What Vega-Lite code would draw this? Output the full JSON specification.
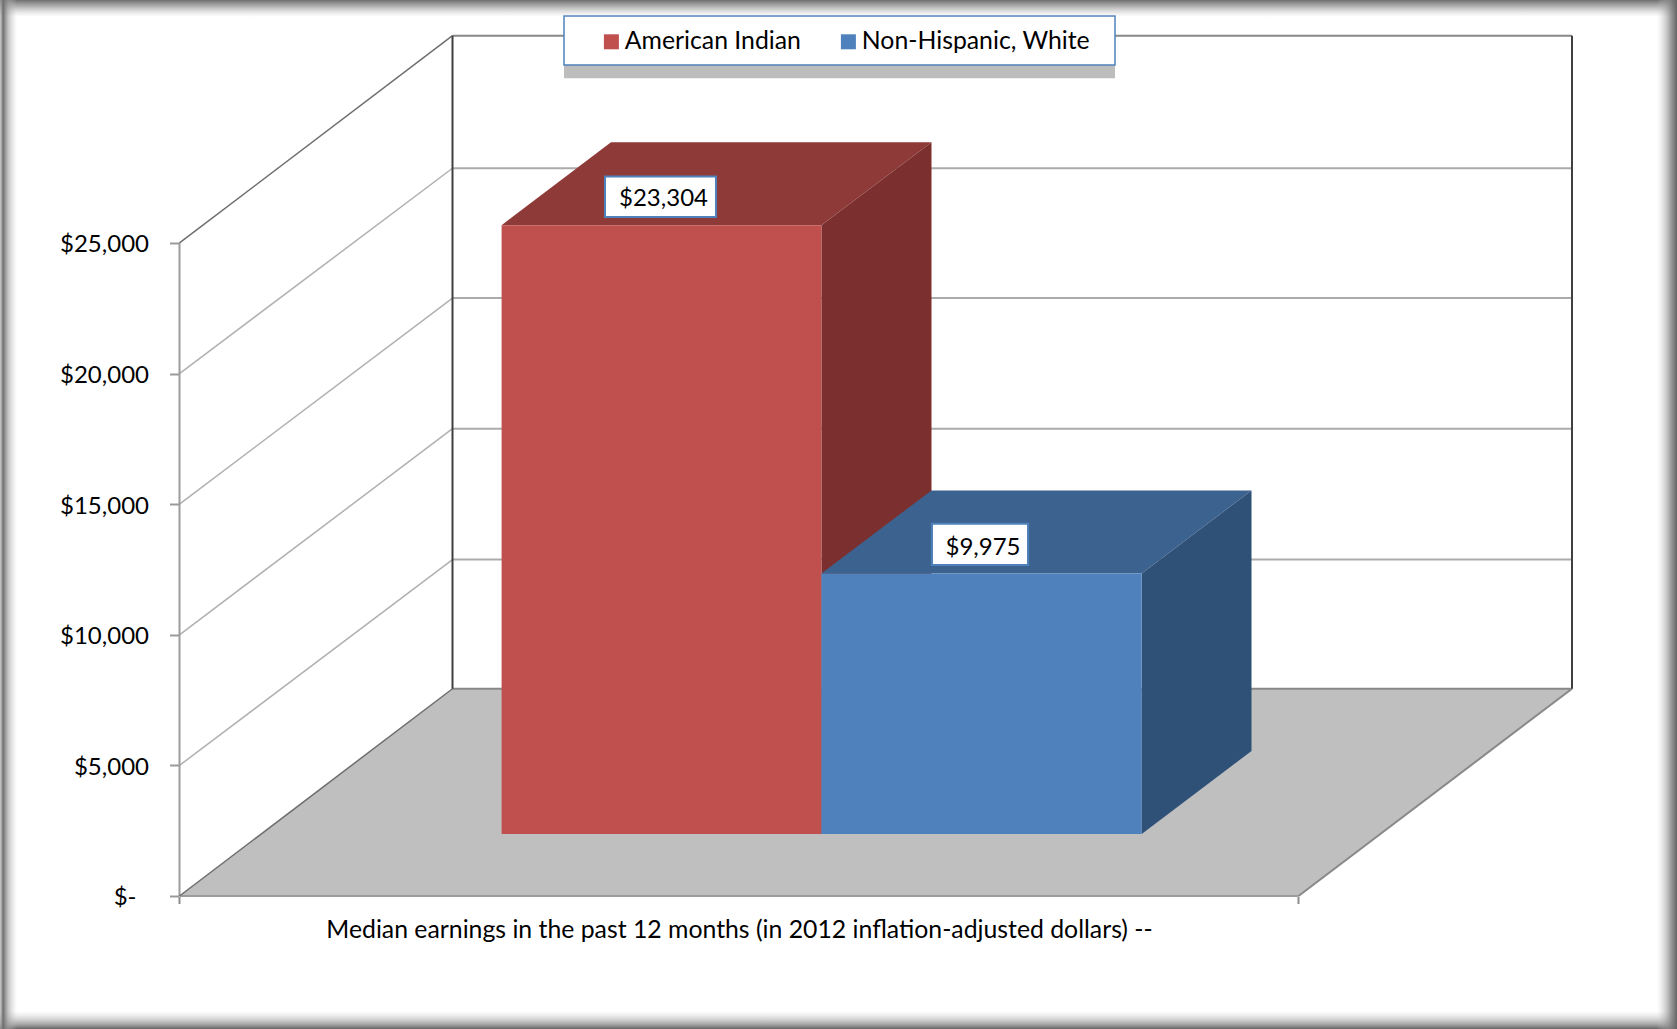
{
"$schema":"https://vega.github.io/schema/vega-lite/v6.json",
"width":1677,"height":1029,"padding":0,"autosize":{"type":"none"},"background":"white",
"config":{"view":{"stroke":null},"font":"Lato"},
"datasets":{
"grid":[
{"level":5000,"seg":"side","x":179.5,"y":5000},{"level":5000,"seg":"side","x":452.5,"y":12880},
{"level":10000,"seg":"side","x":179.5,"y":10000},{"level":10000,"seg":"side","x":452.5,"y":17890},
{"level":15000,"seg":"side","x":179.5,"y":15000},{"level":15000,"seg":"side","x":452.5,"y":22890},
{"level":20000,"seg":"side","x":179.5,"y":20000},{"level":20000,"seg":"side","x":452.5,"y":27860},
{"level":5000,"seg":"back","x":452.5,"y":12880},{"level":5000,"seg":"back","x":1572,"y":12880},
{"level":10000,"seg":"back","x":452.5,"y":17890},{"level":10000,"seg":"back","x":1572,"y":17890},
{"level":15000,"seg":"back","x":452.5,"y":22890},{"level":15000,"seg":"back","x":1572,"y":22890},
{"level":20000,"seg":"back","x":452.5,"y":27860},{"level":20000,"seg":"back","x":1572,"y":27860}
],
"edges":[
{"edge":"wallLeft","kind":"dark","x":452.5,"y":7935},{"edge":"wallLeft","kind":"dark","x":452.5,"y":32935},
{"edge":"wallRight","kind":"dark","x":1572,"y":7935},{"edge":"wallRight","kind":"dark","x":1572,"y":32935},
{"edge":"wallTop","kind":"mid","x":452.5,"y":32935},{"edge":"wallTop","kind":"mid","x":1572,"y":32935},
{"edge":"wallBottom","kind":"mid","x":452.5,"y":7935},{"edge":"wallBottom","kind":"mid","x":1572,"y":7935},
{"edge":"floorFront","kind":"light","x":179.5,"y":0},{"edge":"floorFront","kind":"light","x":1298.5,"y":0},
{"edge":"axis","kind":"light","x":179.5,"y":0},{"edge":"axis","kind":"light","x":179.5,"y":25000},
{"edge":"floorRight","kind":"mid","x":1298.5,"y":0},{"edge":"floorRight","kind":"mid","x":1572,"y":7935},
{"edge":"topDiag","kind":"diag","x":179.5,"y":25000},{"edge":"topDiag","kind":"diag","x":452.5,"y":32935},
{"edge":"floorDiag","kind":"diag","x":179.5,"y":0},{"edge":"floorDiag","kind":"diag","x":452.5,"y":7935}
],
"floor":[{"x":179.5,"x2":1298.5,"y":0},{"x":452.5,"x2":1572,"y":7935}],
"bars":[
{"series":"American Indian","x":501.6,"x2":821.4,"base":2375,"top":25679},
{"series":"Non-Hispanic, White","x":821.4,"x2":1141.7,"base":2375,"top":12350}
],
"tops":[
{"series":"American Indian","x":501.6,"x2":821.4,"y":25679},{"series":"American Indian","x":611,"x2":931.5,"y":28856},
{"series":"Non-Hispanic, White","x":821.4,"x2":1141.7,"y":12350},{"series":"Non-Hispanic, White","x":931.5,"x2":1251.5,"y":15527}
],
"sides":[
{"series":"American Indian","x":821.4,"y":2375,"y2":25679},{"series":"American Indian","x":931.5,"y":5552,"y2":28856},
{"series":"Non-Hispanic, White","x":1141.7,"y":2375,"y2":12350},{"series":"Non-Hispanic, White","x":1251.5,"y":5552,"y2":15527}
],
"labels":[
{"series":"American Indian","value":23304,"x":605,"x2":716,"y":27542,"y2":25992,"cx":663.5,"cy":26700},
{"series":"Non-Hispanic, White","value":9975,"x":932,"x2":1028,"y":14252,"y2":12671,"cx":983,"cy":13340}
],
"zeroLabel":[{"text":"$-","x":136.5,"y":-60}],
"legendBox":[{"x":564,"x2":1115,"y":33686,"y2":31811}],
"legendShadow":[{"x":564,"x2":1115,"y":31811,"y2":31300}],
"bandTop":[{"x":0,"x2":1677,"y":34300,"y2":33650}],
"bandBottom":[{"x":0,"x2":1677,"y":-4400,"y2":-5091}],
"bandLeft":[{"x":0,"x2":17,"y":34300,"y2":-5091}],
"bandRight":[{"x":1657,"x2":1677,"y":34300,"y2":-5091}]
},
"encoding":{
"x":{"field":"x","type":"quantitative","scale":{"domain":[0,1677],"nice":false,"zero":false},
"axis":{"orient":"bottom","offset":-132.5,"values":[178.5,1297.5],"labels":false,"domain":false,"grid":false,"ticks":true,"tickSize":7,"tickWidth":2,"tickColor":"#8c8c8c",
"title":"Median earnings in the past 12 months (in 2012 inflation-adjusted dollars) --","titleFont":"Lato","titleFontSize":24.8,"titleFontWeight":"normal","titleColor":"#000000","titleX":739,"titleY":34,"titleAnchor":"middle","titleBaseline":"middle","titleAlign":"center"}},
"y":{"field":"y","type":"quantitative","scale":{"domain":[-5091,34300],"nice":false,"zero":false},
"axis":{"orient":"left","offset":-178.5,"values":[0,5000,10000,15000,20000,25000],"domain":false,"grid":false,"title":null,"tickSize":9,"tickWidth":2,"tickColor":"#9a9a9a","labelPadding":21,"labelOffset":2,"labelFont":"Lato","labelFontSize":24,"labelColor":"#000000",
"labelExpr":"datum.value===0?'':format(datum.value,'$,.0f')"}}
},
"layer":[
{"data":{"name":"floor"},"mark":{"type":"area","orient":"horizontal","color":"#bfbfbf"},"encoding":{"x2":{"field":"x2"}}},
{"data":{"name":"grid"},"transform":[{"filter":"datum.seg==='back'"}],"mark":{"type":"line","color":"#ababab","strokeWidth":2},"encoding":{"detail":{"field":"level"}}},
{"data":{"name":"grid"},"transform":[{"filter":"datum.seg==='side'"}],"mark":{"type":"line","color":"#b0b0b0","strokeWidth":1.5},"encoding":{"detail":{"field":"level"}}},
{"data":{"name":"edges"},"transform":[{"filter":"datum.kind==='light'"}],"mark":{"type":"line","color":"#9c9c9c","strokeWidth":2},"encoding":{"detail":{"field":"edge"}}},
{"data":{"name":"edges"},"transform":[{"filter":"datum.kind==='mid'"}],"mark":{"type":"line","color":"#888888","strokeWidth":2},"encoding":{"detail":{"field":"edge"}}},
{"data":{"name":"edges"},"transform":[{"filter":"datum.kind==='diag'"}],"mark":{"type":"line","color":"#6e6e6e","strokeWidth":1.5},"encoding":{"detail":{"field":"edge"}}},
{"data":{"name":"edges"},"transform":[{"filter":"datum.kind==='dark'"}],"mark":{"type":"line","color":"#404040","strokeWidth":2},"encoding":{"detail":{"field":"edge"}}},
{"data":{"name":"tops"},"transform":[{"filter":"datum.series==='American Indian'"}],"mark":{"type":"area","orient":"horizontal","color":"#8e3a39"},"encoding":{"x2":{"field":"x2"}}},
{"data":{"name":"sides"},"transform":[{"filter":"datum.series==='American Indian'"}],"mark":{"type":"area","orient":"vertical","color":"#7b302f"},"encoding":{"y2":{"field":"y2"}}},
{"data":{"name":"tops"},"transform":[{"filter":"datum.series==='Non-Hispanic, White'"}],"mark":{"type":"area","orient":"horizontal","color":"#3c628f"},"encoding":{"x2":{"field":"x2"}}},
{"data":{"name":"sides"},"transform":[{"filter":"datum.series==='Non-Hispanic, White'"}],"mark":{"type":"area","orient":"vertical","color":"#2f5077"},"encoding":{"y2":{"field":"y2"}}},
{"data":{"name":"bars"},"mark":{"type":"rect"},"encoding":{"x2":{"field":"x2"},"y":{"field":"base","type":"quantitative"},"y2":{"field":"top"},
"color":{"field":"series","type":"nominal","scale":{"domain":["American Indian","Non-Hispanic, White"],"range":["#c0504d","#4f81bd"]},
"legend":{"title":null,"orient":"none","legendX":599,"legendY":29,"direction":"horizontal","symbolType":"square","symbolSize":225,"symbolStrokeWidth":0,"symbolOpacity":1,"labelFont":"Lato","labelFontSize":24.8,"labelLimit":400,"labelColor":"#000000","labelOffset":1,"columnPadding":35,"padding":0}}}},
{"data":{"name":"labels"},"mark":{"type":"rect","fill":"#ffffff","stroke":"#4f81bd","strokeWidth":2},"encoding":{"x2":{"field":"x2"},"y2":{"field":"y2"}}},
{"data":{"name":"labels"},"mark":{"type":"text","font":"Lato","fontSize":24,"color":"#000000","align":"center","baseline":"middle"},"encoding":{"x":{"field":"cx","type":"quantitative"},"y":{"field":"cy","type":"quantitative"},"text":{"field":"value","type":"quantitative","format":"$,.0f"}}},
{"data":{"name":"zeroLabel"},"mark":{"type":"text","font":"Lato","fontSize":24,"color":"#000000","align":"right","baseline":"middle"},"encoding":{"text":{"field":"text"}}},
{"data":{"name":"legendShadow"},"mark":{"type":"rect","fill":"#bdbdbd"},"encoding":{"x2":{"field":"x2"},"y2":{"field":"y2"}}},
{"data":{"name":"legendBox"},"mark":{"type":"rect","fill":"#ffffff","stroke":"#4f81bd","strokeWidth":1.5},"encoding":{"x2":{"field":"x2"},"y2":{"field":"y2"}}},
{"data":{"name":"bandTop"},"mark":{"type":"rect","color":{"gradient":"linear","x1":0,"y1":0,"x2":0,"y2":1,"stops":[{"offset":0,"color":"rgba(110,110,110,1)"},{"offset":0.4,"color":"rgba(150,150,150,0.7)"},{"offset":1,"color":"rgba(200,200,200,0)"}]}},"encoding":{"x2":{"field":"x2"},"y2":{"field":"y2"}}},
{"data":{"name":"bandBottom"},"mark":{"type":"rect","color":{"gradient":"linear","x1":0,"y1":1,"x2":0,"y2":0,"stops":[{"offset":0,"color":"rgba(100,100,100,1)"},{"offset":0.3,"color":"rgba(140,140,140,0.7)"},{"offset":1,"color":"rgba(200,200,200,0)"}]}},"encoding":{"x2":{"field":"x2"},"y2":{"field":"y2"}}},
{"data":{"name":"bandLeft"},"mark":{"type":"rect","color":{"gradient":"linear","x1":0,"y1":0,"x2":1,"y2":0,"stops":[{"offset":0,"color":"rgba(170,170,170,0.6)"},{"offset":0.18,"color":"rgba(110,110,110,1)"},{"offset":0.5,"color":"rgba(160,160,160,0.6)"},{"offset":1,"color":"rgba(200,200,200,0)"}]}},"encoding":{"x2":{"field":"x2"},"y2":{"field":"y2"}}},
{"data":{"name":"bandRight"},"mark":{"type":"rect","color":{"gradient":"linear","x1":1,"y1":0,"x2":0,"y2":0,"stops":[{"offset":0,"color":"rgba(100,100,100,1)"},{"offset":0.3,"color":"rgba(130,130,130,0.8)"},{"offset":1,"color":"rgba(200,200,200,0)"}]}},"encoding":{"x2":{"field":"x2"},"y2":{"field":"y2"}}}
]
}
